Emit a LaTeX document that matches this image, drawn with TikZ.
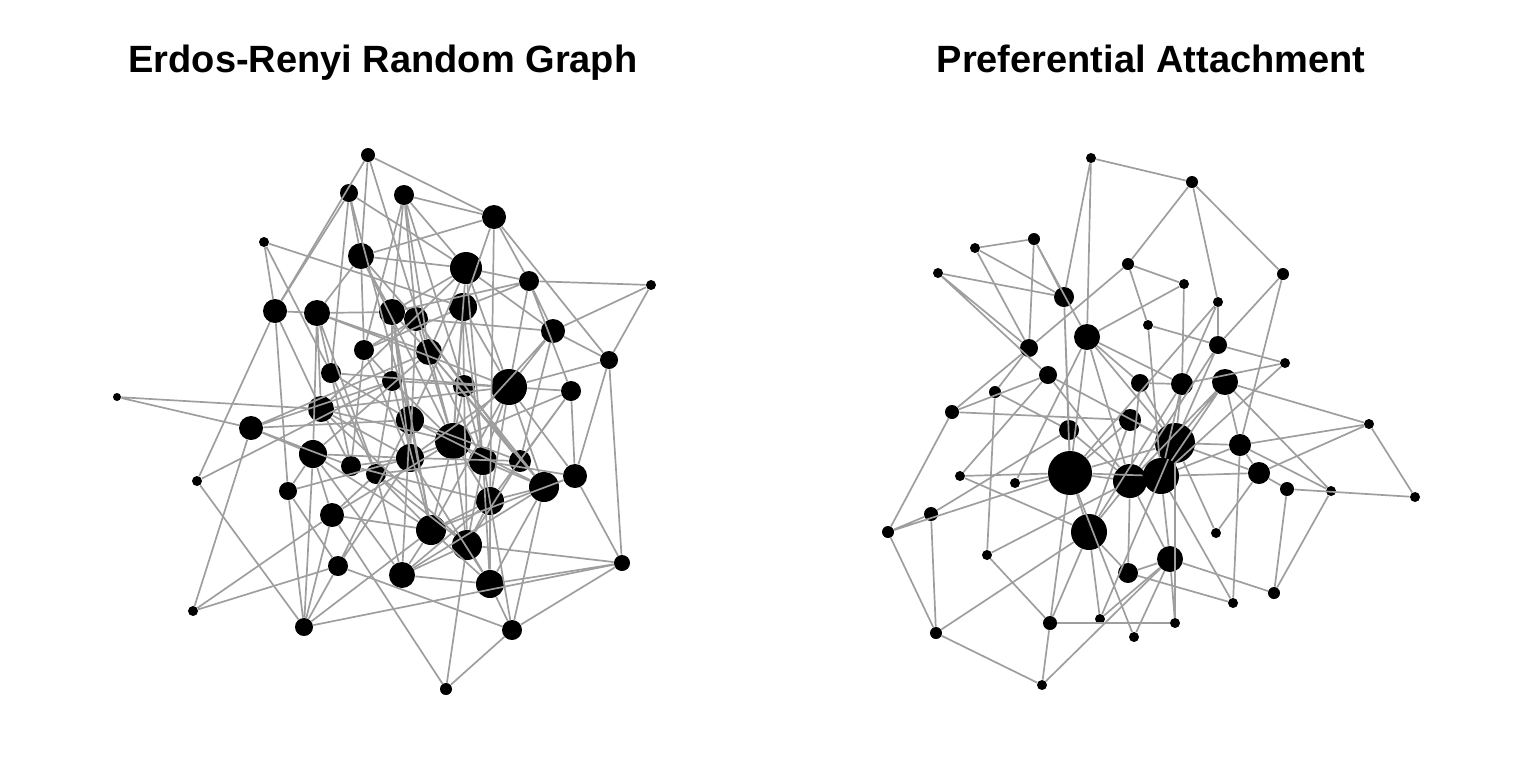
\documentclass[tikz,border=0pt]{standalone}
\usepackage{fontspec}
\setmainfont{Liberation Sans}
\definecolor{edgegray}{RGB}{158,158,158}
\tikzset{
  vtx/.style={circle, fill=black, draw=none, inner sep=0pt, minimum size=#1pt},
  edge/.style={draw=edgegray, line width=0.85pt},
  ttl/.style={font=\fontsize{19}{21}\selectfont\bfseries, anchor=base}
}
\begin{document}
\begin{tikzpicture}[x={(0.5pt,0)}, y={(0,-0.5pt)}]
\useasboundingbox (0,0) rectangle (1536,768);

%%%%% TITLES %%%%%
\node[ttl] (ttlER) at (383,72) {Erdos-Renyi Random Graph};
\node[ttl] (ttlPA) at (1151,72) {Preferential Attachment};

%%%%% ERDOS-RENYI VERTICES %%%%%
\node[vtx=7]  (e1)  at (368,155) {};
\node[vtx=9]  (e2)  at (349,193) {};
\node[vtx=10] (e3)  at (404,195) {};
\node[vtx=12] (e4)  at (494,217) {};
\node[vtx=5]  (e5)  at (264,242) {};
\node[vtx=13] (e6)  at (361,256) {};
\node[vtx=16] (e7)  at (466,268) {};
\node[vtx=10] (e8)  at (529,281) {};
\node[vtx=5]  (e9)  at (651,285) {};
\node[vtx=12] (e10) at (275,311) {};
\node[vtx=13] (e11) at (317,313) {};
\node[vtx=13] (e12) at (392,312) {};
\node[vtx=12] (e13) at (416,319) {};
\node[vtx=14] (e14) at (463,307) {};
\node[vtx=12] (e15) at (553,331) {};
\node[vtx=10] (e16) at (364,350) {};
\node[vtx=13] (e17) at (429,352) {};
\node[vtx=9]  (e18) at (609,360) {};
\node[vtx=10] (e19) at (331,373) {};
\node[vtx=10] (e20) at (392,381) {};
\node[vtx=11] (e21) at (464,386) {};
\node[vtx=18] (e22) at (509,387) {};
\node[vtx=10] (e23) at (571,391) {};
\node[vtx=4]  (e24) at (117,397) {};
\node[vtx=13] (e25) at (321,409) {};
\node[vtx=14] (e26) at (410,420) {};
\node[vtx=12] (e27) at (251,428) {};
\node[vtx=18] (e28) at (453,441) {};
\node[vtx=14] (e29) at (313,454) {};
\node[vtx=10] (e30) at (351,466) {};
\node[vtx=10] (e31) at (376,474) {};
\node[vtx=14] (e32) at (410,458) {};
\node[vtx=14] (e33) at (483,461) {};
\node[vtx=11] (e34) at (520,461) {};
\node[vtx=12] (e35) at (575,476) {};
\node[vtx=5]  (e36) at (197,481) {};
\node[vtx=9]  (e37) at (288,491) {};
\node[vtx=15] (e38) at (544,487) {};
\node[vtx=14] (e39) at (490,501) {};
\node[vtx=12] (e40) at (332,515) {};
\node[vtx=15] (e41) at (431,530) {};
\node[vtx=15] (e42) at (467,545) {};
\node[vtx=10] (e43) at (338,566) {};
\node[vtx=13] (e44) at (402,575) {};
\node[vtx=14] (e45) at (490,584) {};
\node[vtx=8]  (e46) at (622,563) {};
\node[vtx=5]  (e47) at (193,611) {};
\node[vtx=9]  (e48) at (304,627) {};
\node[vtx=10] (e49) at (512,630) {};
\node[vtx=6]  (e50) at (446,689) {};

%%%%% ERDOS-RENYI EDGES %%%%%
\draw[edge] (e1) -- (e4) (e1) -- (e10) (e1) -- (e6) (e1) -- (e17);
\draw[edge] (e2) -- (e7) (e2) -- (e10) (e2) -- (e19) (e2) -- (e6) (e2) -- (e26);
\draw[edge] (e3) -- (e4) (e3) -- (e12) (e3) -- (e13) (e3) -- (e7) (e3) -- (e16) (e3) -- (e21) (e3) -- (e17);
\draw[edge] (e4) -- (e6) (e4) -- (e14) (e4) -- (e18) (e4) -- (e39) (e4) -- (e8);
\draw[edge] (e5) -- (e14) (e5) -- (e19) (e5) -- (e10);
\draw[edge] (e8) -- (e9) (e8) -- (e14) (e8) -- (e12) (e8) -- (e23) (e8) -- (e15) (e8) -- (e22);
\draw[edge] (e9) -- (e15) (e9) -- (e18);
\draw[edge] (e18) -- (e15) (e18) -- (e46) (e18) -- (e22) (e18) -- (e35);
\draw[edge] (e10) -- (e11) (e10) -- (e36) (e10) -- (e37) (e10) -- (e25);
\draw[edge] (e24) -- (e27) (e24) -- (e25);
\draw[edge] (e27) -- (e47) (e27) -- (e29) (e27) -- (e26) (e27) -- (e20) (e27) -- (e17) (e27) -- (e30);
\draw[edge] (e36) -- (e20) (e36) -- (e48);
\draw[edge] (e47) -- (e40) (e47) -- (e43);
\draw[edge] (e48) -- (e37) (e48) -- (e29) (e48) -- (e40) (e48) -- (e43) (e48) -- (e41) (e48) -- (e46);
\draw[edge] (e37) -- (e29) (e37) -- (e32) (e37) -- (e43);
\draw[edge] (e43) -- (e49) (e43) -- (e26) (e43) -- (e32);
\draw[edge] (e40) -- (e29) (e40) -- (e31) (e40) -- (e28) (e40) -- (e50) (e40) -- (e41);
\draw[edge] (e50) -- (e49) (e50) -- (e42);
\draw[edge] (e49) -- (e46) (e49) -- (e45) (e49) -- (e38) (e49) -- (e33);
\draw[edge] (e46) -- (e35) (e46) -- (e42) (e46) -- (e45);
\draw[edge] (e44) -- (e45) (e44) -- (e41) (e44) -- (e29) (e44) -- (e31) (e44) -- (e39) (e44) -- (e42);
\draw[edge] (e45) -- (e39) (e45) -- (e42) (e45) -- (e41) (e45) -- (e33);
\draw[edge] (e35) -- (e23) (e35) -- (e38) (e35) -- (e22) (e35) -- (e33) (e35) -- (e41);
\draw[edge] (e7) -- (e8) (e7) -- (e15) (e7) -- (e14) (e7) -- (e6) (e7) -- (e12) (e7) -- (e25) (e7) -- (e28) (e7) -- (e33) (e7) -- (e22) (e7) -- (e17);
\draw[edge] (e15) -- (e22) (e15) -- (e13) (e15) -- (e34) (e15) -- (e28);
\draw[edge] (e23) -- (e22) (e23) -- (e39) (e23) -- (e34) (e23) -- (e28);
\draw[edge] (e6) -- (e11) (e6) -- (e16) (e6) -- (e13) (e6) -- (e28) (e6) -- (e12);
\draw[edge] (e11) -- (e12) (e11) -- (e19) (e11) -- (e25) (e11) -- (e22) (e11) -- (e31) (e11) -- (e17) (e11) -- (e29);
\draw[edge] (e12) -- (e17) (e12) -- (e20) (e12) -- (e32) (e12) -- (e41) (e12) -- (e26);
\draw[edge] (e13) -- (e21) (e13) -- (e16) (e13) -- (e28) (e13) -- (e34) (e13) -- (e32);
\draw[edge] (e14) -- (e21) (e14) -- (e33) (e14) -- (e26) (e14) -- (e16) (e14) -- (e22) (e14) -- (e28);
\draw[edge] (e16) -- (e30) (e16) -- (e32) (e16) -- (e20);
\draw[edge] (e17) -- (e28) (e17) -- (e34) (e17) -- (e38) (e17) -- (e29) (e17) -- (e33);
\draw[edge] (e19) -- (e26) (e19) -- (e30) (e19) -- (e22) (e19) -- (e31);
\draw[edge] (e20) -- (e22) (e20) -- (e31) (e20) -- (e41) (e20) -- (e28);
\draw[edge] (e21) -- (e28) (e21) -- (e38) (e21) -- (e42) (e21) -- (e33);
\draw[edge] (e22) -- (e25) (e22) -- (e33) (e22) -- (e41) (e22) -- (e32) (e22) -- (e39) (e22) -- (e38);
\draw[edge] (e25) -- (e28) (e25) -- (e30) (e25) -- (e42) (e25) -- (e32);
\draw[edge] (e26) -- (e34) (e26) -- (e38) (e26) -- (e44) (e26) -- (e41);
\draw[edge] (e28) -- (e33) (e28) -- (e39) (e28) -- (e42) (e28) -- (e32) (e28) -- (e41);
\draw[edge] (e29) -- (e32) (e29) -- (e41);
\draw[edge] (e30) -- (e32) (e30) -- (e39);
\draw[edge] (e31) -- (e33) (e31) -- (e41) (e31) -- (e42);
\draw[edge] (e32) -- (e34) (e32) -- (e45);
\draw[edge] (e33) -- (e38) (e33) -- (e42);
\draw[edge] (e34) -- (e42);
\draw[edge] (e38) -- (e39) (e38) -- (e44) (e38) -- (e45);
\draw[edge] (e39) -- (e42) (e39) -- (e41);

%%%%% PREFERENTIAL ATTACHMENT VERTICES %%%%%
\node[vtx=5]  (p1)  at (1091,158) {};
\node[vtx=6]  (p2)  at (1192,182) {};
\node[vtx=5]  (p3)  at (975,248) {};
\node[vtx=6]  (p4)  at (1034,239) {};
\node[vtx=5]  (p5)  at (938,273) {};
\node[vtx=6]  (p6)  at (1128,264) {};
\node[vtx=6]  (p7)  at (1283,274) {};
\node[vtx=10] (p8)  at (1064,297) {};
\node[vtx=5]  (p9)  at (1184,284) {};
\node[vtx=5]  (p10) at (1218,302) {};
\node[vtx=5]  (p11) at (1148,325) {};
\node[vtx=13] (p12) at (1087,337) {};
\node[vtx=9]  (p13) at (1218,345) {};
\node[vtx=9]  (p14) at (1029,348) {};
\node[vtx=5]  (p15) at (1285,363) {};
\node[vtx=9]  (p16) at (1048,375) {};
\node[vtx=6]  (p17) at (995,392) {};
\node[vtx=9]  (p18) at (1140,383) {};
\node[vtx=11] (p19) at (1182,384) {};
\node[vtx=13] (p20) at (1225,382) {};
\node[vtx=7]  (p21) at (952,412) {};
\node[vtx=11] (p22) at (1130,420) {};
\node[vtx=10] (p23) at (1069,430) {};
\node[vtx=20] (p24) at (1175,443) {};
\node[vtx=5]  (p25) at (1369,424) {};
\node[vtx=11] (p26) at (1240,445) {};
\node[vtx=5]  (p27) at (960,476) {};
\node[vtx=5]  (p28) at (1015,483) {};
\node[vtx=22] (p29) at (1070,473) {};
\node[vtx=17] (p30) at (1130,481) {};
\node[vtx=18] (p31) at (1161,476) {};
\node[vtx=11] (p32) at (1259,473) {};
\node[vtx=7]  (p33) at (1287,489) {};
\node[vtx=5]  (p34) at (1331,491) {};
\node[vtx=5]  (p35) at (1415,497) {};
\node[vtx=7]  (p36) at (931,514) {};
\node[vtx=6]  (p37) at (888,532) {};
\node[vtx=5]  (p38) at (1216,533) {};
\node[vtx=18] (p39) at (1089,532) {};
\node[vtx=5]  (p40) at (987,555) {};
\node[vtx=13] (p41) at (1170,559) {};
\node[vtx=10] (p42) at (1128,573) {};
\node[vtx=6]  (p43) at (1274,593) {};
\node[vtx=5]  (p44) at (1233,603) {};
\node[vtx=7]  (p45) at (1050,623) {};
\node[vtx=5]  (p46) at (1100,619) {};
\node[vtx=5]  (p47) at (1175,623) {};
\node[vtx=5]  (p48) at (1134,637) {};
\node[vtx=6]  (p49) at (936,633) {};
\node[vtx=5]  (p50) at (1042,685) {};

%%%%% PREFERENTIAL ATTACHMENT EDGES %%%%%
\draw[edge] (p1) -- (p2) (p1) -- (p12) (p1) -- (p8);
\draw[edge] (p2) -- (p7) (p2) -- (p10) (p2) -- (p6);
\draw[edge] (p3) -- (p4) (p3) -- (p8) (p3) -- (p14);
\draw[edge] (p4) -- (p14) (p4) -- (p8) (p4) -- (p12);
\draw[edge] (p5) -- (p8) (p5) -- (p14) (p5) -- (p16);
\draw[edge] (p6) -- (p9) (p6) -- (p11) (p6) -- (p14);
\draw[edge] (p7) -- (p13) (p7) -- (p26);
\draw[edge] (p9) -- (p12) (p9) -- (p19);
\draw[edge] (p10) -- (p13) (p10) -- (p19) (p10) -- (p29);
\draw[edge] (p11) -- (p13) (p11) -- (p31);
\draw[edge] (p13) -- (p15) (p13) -- (p30) (p13) -- (p24);
\draw[edge] (p15) -- (p19) (p15) -- (p31);
\draw[edge] (p25) -- (p35) (p25) -- (p26) (p25) -- (p32) (p25) -- (p20);
\draw[edge] (p34) -- (p43) (p34) -- (p20) (p34) -- (p26);
\draw[edge] (p33) -- (p43) (p33) -- (p35) (p33) -- (p32);
\draw[edge] (p43) -- (p41);
\draw[edge] (p44) -- (p26) (p44) -- (p42) (p44) -- (p31);
\draw[edge] (p38) -- (p32) (p38) -- (p24);
\draw[edge] (p47) -- (p24) (p47) -- (p45);
\draw[edge] (p48) -- (p29) (p48) -- (p41);
\draw[edge] (p46) -- (p39) (p46) -- (p24) (p46) -- (p41);
\draw[edge] (p45) -- (p39) (p45) -- (p29) (p45) -- (p50);
\draw[edge] (p50) -- (p49) (p50) -- (p41);
\draw[edge] (p49) -- (p37) (p49) -- (p36) (p49) -- (p39);
\draw[edge] (p37) -- (p21) (p37) -- (p36) (p37) -- (p29);
\draw[edge] (p36) -- (p23);
\draw[edge] (p21) -- (p22) (p21) -- (p14) (p21) -- (p16);
\draw[edge] (p27) -- (p29) (p27) -- (p39) (p27) -- (p16);
\draw[edge] (p28) -- (p12) (p28) -- (p29);
\draw[edge] (p40) -- (p17) (p40) -- (p45) (p40) -- (p30);
\draw[edge] (p17) -- (p14) (p17) -- (p23);
\draw[edge] (p8) -- (p23) (p8) -- (p29);
\draw[edge] (p12) -- (p18) (p12) -- (p24) (p12) -- (p30) (p12) -- (p29) (p12) -- (p19);
\draw[edge] (p16) -- (p30) (p16) -- (p24);
\draw[edge] (p18) -- (p19) (p18) -- (p24) (p18) -- (p30);
\draw[edge] (p19) -- (p24) (p19) -- (p31) (p19) -- (p39);
\draw[edge] (p20) -- (p24) (p20) -- (p30) (p20) -- (p26) (p20) -- (p31);
\draw[edge] (p22) -- (p24) (p22) -- (p29) (p22) -- (p39);
\draw[edge] (p23) -- (p29) (p23) -- (p30);
\draw[edge] (p24) -- (p26) (p24) -- (p29) (p24) -- (p31) (p24) -- (p32);
\draw[edge] (p26) -- (p32) (p26) -- (p31);
\draw[edge] (p29) -- (p30) (p29) -- (p39) (p29) -- (p31);
\draw[edge] (p30) -- (p39) (p30) -- (p41) (p30) -- (p42);
\draw[edge] (p31) -- (p32) (p31) -- (p41);
\draw[edge] (p39) -- (p42);
\draw[edge] (p41) -- (p42) (p41) -- (p47);
\end{tikzpicture}
\end{document}
